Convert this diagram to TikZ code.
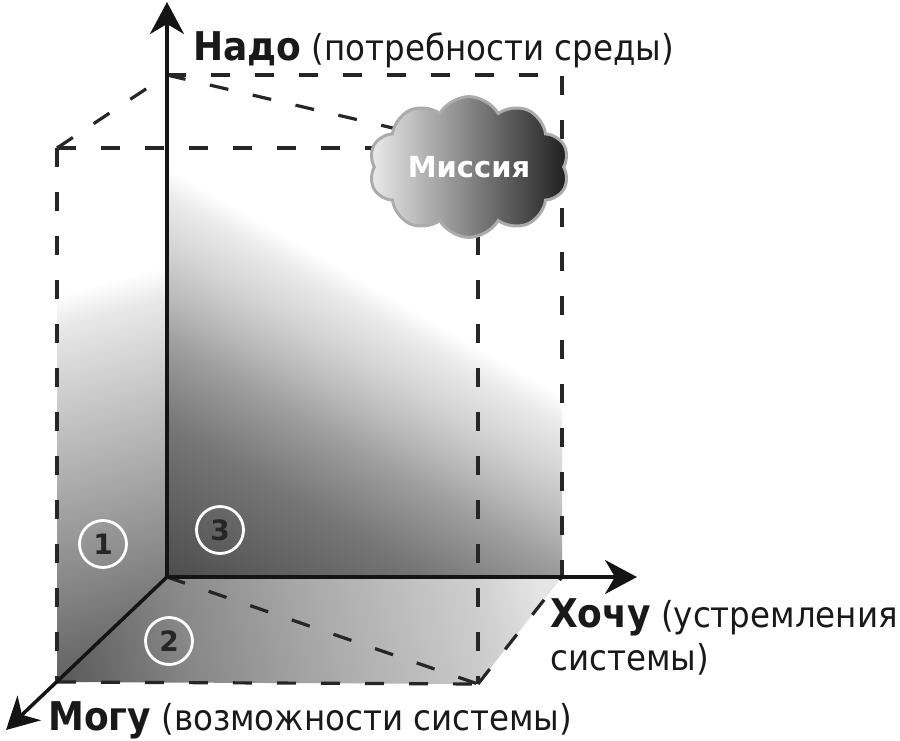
\documentclass[tikz,border=0pt]{standalone}
\usepackage{fontspec}
\setmainfont{DejaVu Sans}
\usetikzlibrary{arrows.meta,shapes.symbols}

% shadings: the shaded rectangle spans 640pt along the gradient, mapped to 25bp..75bp
\pgfdeclareverticalshading{backsh}{100bp}{color(0bp)=(black!70); color(25bp)=(black!70); color(35.2bp)=(black!54); color(41bp)=(black!38); color(43.8bp)=(black!28); color(47.3bp)=(black!17); color(50.8bp)=(black!8); color(52.7bp)=(white); color(100bp)=(white)}
\pgfdeclareverticalshading{leftsh}{100bp}{color(0bp)=(black!64); color(26.9bp)=(black!62); color(32.8bp)=(black!50); color(40.6bp)=(black!35); color(48.4bp)=(black!20); color(53.9bp)=(black!9); color(56.3bp)=(white); color(100bp)=(white)}
\pgfdeclareverticalshading{botsh}{100bp}{color(0bp)=(black!66); color(26.6bp)=(black!65); color(36.7bp)=(black!47); color(45.9bp)=(black!35); color(54.5bp)=(black!25); color(59.7bp)=(black!19); color(64.8bp)=(black!10); color(100bp)=(black!10)}

\newcommand\axhead[1]{{\fontsize{36}{43}\selectfont\bfseries #1}}
\newcommand\tall[1]{\scalebox{1}[1.1]{#1}}

\begin{document}
\begin{tikzpicture}[x=1pt,y=-1pt,
  dashline/.style={draw=black!85, line width=3.2pt, dash pattern=on 19pt off 25pt},
  axis/.style={draw=black!92, line width=3.5pt, -{Stealth[length=32pt,width=34pt,inset=10pt]}},
  num/.style={circle, draw=white, line width=2.8pt, minimum size=47pt, inner sep=0pt, font=\fontsize{28}{28}\selectfont\bfseries, text=black!85},
  lbl/.style={inner sep=0pt, font=\fontsize{32.5}{43}\selectfont, text=black!90, align=left},
  mission/.style={cloud, cloud puffs=10, cloud puff arc=120, aspect=1.5, minimum width=200pt, minimum height=136pt, inner sep=0pt, draw=black!33, line width=3pt, left color=black!8, right color=black!88, text=white, font=\fontsize{29}{29}\selectfont\bfseries}
]
\useasboundingbox (0,0) rectangle (900,741);

% box corners
\coordinate (O)   at (167,577);
\coordinate (BTL) at (167,75);
\coordinate (BTR) at (562,75);
\coordinate (BBR) at (562,577);
\coordinate (FTL) at (57,148);
\coordinate (FTR) at (478,148);
\coordinate (FBL) at (57,682);
\coordinate (FBR) at (478,684);
% axis tips
\coordinate (ytip) at (167,2);
\coordinate (xtip) at (637,577);
\coordinate (ztip) at (6,730);

% shaded back plane (3)
\begin{scope}
  \clip (BTL) -- (BTR) -- (BBR) -- (O) -- cycle;
  \begin{scope}[transform canvas={rotate around={-30:(O)}}]
    \shade[shading=backsh] (-233,577) rectangle (567,-63);
  \end{scope}
\end{scope}
% shaded left plane (1)
\begin{scope}
  \clip (FTL) -- (BTL) -- (O) -- (FBL) -- cycle;
  \begin{scope}[transform canvas={rotate around={15:(O)}}]
    \shade[shading=leftsh] (-133,677) rectangle (467,37);
  \end{scope}
\end{scope}
% shaded bottom plane (2)
\begin{scope}
  \clip (O) -- (BBR) -- (FBR) -- (FBL) -- cycle;
  \begin{scope}[transform canvas={rotate around={-75:(O)}}]
    \shade[shading=botsh] (-33,727) rectangle (567,87);
  \end{scope}
\end{scope}

% dashed edges
\draw[dashline] (FTL) -- (BTL);
\draw[dashline] (BTL) -- (BTR) -- (BBR);
\draw[dashline] (FTL) -- (FTR);
\draw[dashline] (BTL) -- (FTR);
\draw[dashline] (FTL) -- (FBL);
\draw[dashline] (FTR) -- (FBR);
\draw[dashline] (FBL) -- (FBR);
\draw[dashline] (FBR) -- (BBR);
\draw[dashline] (O) -- (FBR);

% axes
\draw[axis] (O) -- (ytip);
\draw[axis] (O) -- (xtip);
\draw[axis] (O) -- (ztip);

% mission cloud
\node[mission] (miss) at (469,167) {Миссия};

% plane numbers
\node[num] (n1) at (103,544) {1};
\node[num] (n2) at (169,641) {2};
\node[num] (n3) at (220,530) {3};

% axis labels
\node[lbl, anchor=base west] (nado) at (193,61) {\tall{\axhead{Надо} (потребности среды)}};
\node[lbl, anchor=base west] (hochu) at (550,670) {\tall{\axhead{Хочу} (устремления}\\\tall{системы)}};
\node[lbl, anchor=base west] (mogu) at (48,730) {\tall{\axhead{Могу} (возможности системы)}};
\end{tikzpicture}
\end{document}
